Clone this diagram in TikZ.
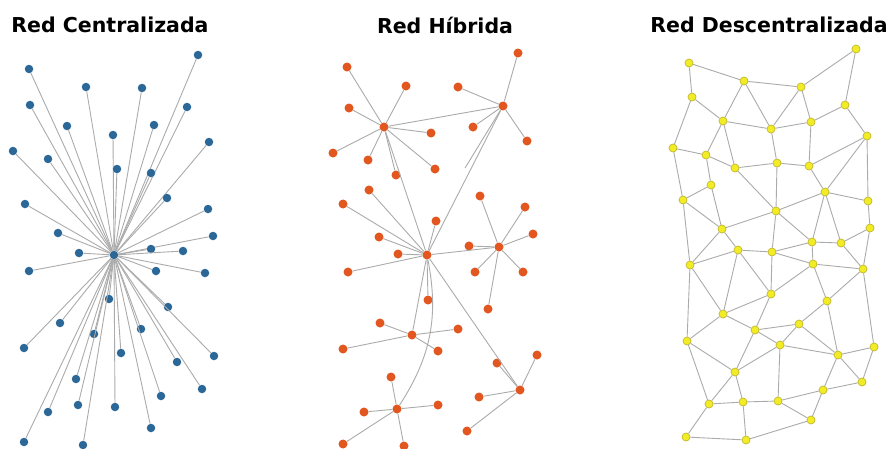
\documentclass[tikz,border=0pt]{standalone}
\usepackage{fontspec}
\newfontfamily\titulofont{DejaVu Sans}
\definecolor{azul}{HTML}{2B6797}
\definecolor{naranja}{HTML}{E2561F}
\definecolor{amarillo}{HTML}{F2EC26}
\definecolor{bordeam}{HTML}{C2B82A}
\definecolor{gris}{HTML}{ABABAB}
\tikzset{
  nodoazul/.style={circle,fill=azul,inner sep=0pt,minimum size=8.5pt},
  nodonaranja/.style={circle,fill=naranja,inner sep=0pt,minimum size=9pt},
  nodoamarillo/.style={circle,fill=amarillo,draw=bordeam,line width=0.7pt,inner sep=0pt,minimum size=8pt},
  enlace/.style={draw=gris,line width=0.9pt},
  titulo/.style={font=\titulofont\bfseries\fontsize{20.5}{24}\selectfont}
}

\begin{document}
\begin{tikzpicture}[x=1pt,y=-1pt]
\useasboundingbox[fill=white] (0,0) rectangle (890,448);
% titulos
\node (tc) [titulo] at (110,25) {Red Centralizada};
\node (th) [titulo] at (445,25) {Red Híbrida};
\node (td) [titulo] at (769,25) {Red Descentralizada};
%
% red centralizada
\node (centro) [nodoazul] at (114,255) {};
\foreach \x/\y [count=\i] in {198/55,29/69,86/87,142/88,30/105,187/107,67/126,154/125,
  113/135,13/151,209/142,48/159,117/169,151/173,167/198,25/204,208/209,58/233,213/236,
  79/253,151/249,183/251,29/271,156/271,205/273,109/299,168/307,60/323,94/334,141/329,
  24/348,121/353,214/356,177/362,76/379,202/389,161/396,78/405,115/407,48/412,151/428,
  24/442,83/445}
{
  \node (s\i) [nodoazul] at (\x,\y) {};
  \path[enlace] (centro) -- (s\i);
}
%
% red hibrida
\node (hA) [nodonaranja] at (384,127) {};
\node (hB) [nodonaranja] at (503,106) {};
\node (hC) [nodonaranja] at (427,255) {};
\node (hD) [nodonaranja] at (499,247) {};
\node (hE) [nodonaranja] at (412,335) {};
\node (hF) [nodonaranja] at (520,390) {};
\node (hG) [nodonaranja] at (397,409) {};
\coordinate (hBsuelto) at (465,168);
\foreach \h/\lista in {A/{347/67,406/86,349/108,333/153,368/160,396/175,431/133,435/169},
  B/{518/53,458/87,473/127,527/141},
  C/{369/190,343/204,436/221,379/237,398/254,348/272,428/300},
  D/{480/196,525/207,533/234,475/272,523/272,488/309,469/246},
  E/{380/323,458/329,343/349,438/351},
  F/{537/355,497/363,479/397,467/431},
  G/{391/377,364/412,438/405,343/444,404/446}}
{
  \foreach \x/\y [count=\i] in \lista {
    \node (h\h\i) [nodonaranja] at (\x,\y) {};
    \path[enlace] (h\h) -- (h\h\i);
  }
}
\path[enlace] (hA) -- (hB);
\path[enlace] (hA) -- (hC);
\path[enlace] (hB) -- (hC);
\path[enlace] (hB) -- (hBsuelto);
\path[enlace] (hC) -- (hD);
\path[enlace] (hC) -- (hE);
\path[enlace] (hC) -- (hF);
\path[enlace] (hC) to[bend left=22] (hG);
%
% red descentralizada
\foreach \x/\y [count=\i] in {856/49,689/63,744/81,801/87,692/97,845/105,723/121,811/122,
  771/129,867/136,673/148,706/155,777/163,809/166,735/168,711/185,825/192,683/200,
  868/201,776/211,722/229,870/228,812/242,841/243,738/250,772/252,690/265,813/264,
  863/269,771/294,827/301,723/314,799/324,755/330,687/341,780/345,874/347,838/355,
  735/372,862/382,823/390,709/404,743/402,778/401,811/420,686/437,746/440}
  \node (m\i) [nodoamarillo] at (\x,\y) {};
\foreach \a/\b in {2/3,2/5,3/4,4/1,1/6,3/7,3/9,4/9,4/8,5/7,5/11,7/9,9/8,8/6,6/10,
  7/12,7/15,9/13,8/14,11/12,12/15,12/16,15/13,13/14,14/10,10/17,10/19,14/17,13/20,
  15/20,16/18,11/18,16/21,17/20,17/19,19/22,18/27,18/21,20/21,20/23,20/26,17/23,
  17/24,21/25,21/27,25/26,25/27,25/32,25/30,26/30,26/28,26/23,23/24,23/28,24/29,
  24/22,22/29,28/29,28/30,28/31,29/31,29/37,27/35,27/32,30/32,30/34,32/34,32/35,
  35/39,35/42,34/39,34/36,39/36,39/42,39/43,42/43,43/44,42/46,46/47,43/47,31/33,
  31/38,33/34,33/36,33/38,36/38,36/44,37/38,37/40,38/40,38/41,40/41,41/44,41/45,
  44/45,45/47}
  \path[enlace] (m\a) -- (m\b);
\end{tikzpicture}
\end{document}
